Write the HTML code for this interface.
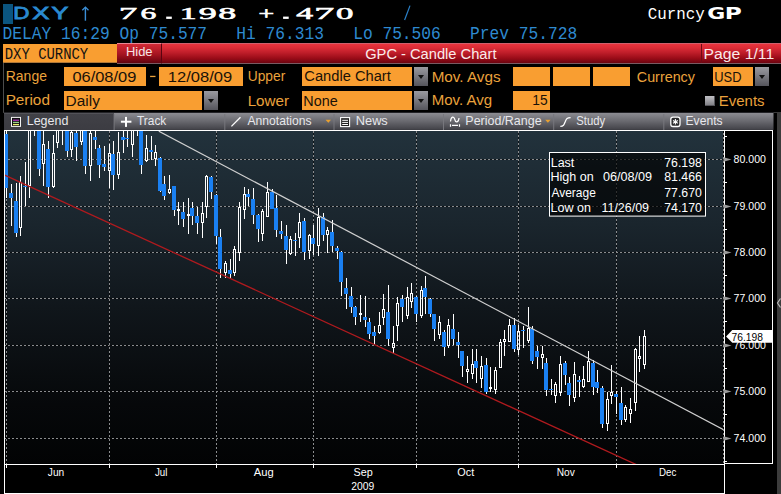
<!DOCTYPE html>
<html><head><meta charset="utf-8"><title>GPC - Candle Chart</title>
<style>
*{margin:0;padding:0;box-sizing:border-box}
html,body{width:781px;height:494px;overflow:hidden;background:#000}
body{position:relative;font-family:"Liberation Sans",Arial,sans-serif}
.a{position:absolute;white-space:pre}
.mono{font-family:"Liberation Mono",monospace}
.cur{left:3px;top:4px;width:10px;height:19.7px;background:#0b5580}
.ob{background:#f99e31;color:#111}
.hdr{left:117px;top:43px;width:664px;height:21px;background:linear-gradient(#ea343e,#dc2c36 20%,#c01e2a 45%,#9a0c18 75%,#6c0410);border-top:1px solid #d0606c;border-bottom:1px solid #7a5a62}
.hide{left:117px;top:43px;width:45px;height:21px;background:linear-gradient(#d42a36,#c0202c 25%,#a41420 55%,#820a16 80%,#600410);border-top:1px solid #e88894;border-right:1px solid #5a0410;border-bottom:1px solid #7a5a62}
.pg{left:701px;top:44px;width:80px;height:19px;border-left:1px solid #700a16}
.dd{width:14px;height:19px;background:linear-gradient(#9a9aa0,#55555c);}
.dd:after{content:"";position:absolute;left:4px;top:8px;border-left:3px solid transparent;border-right:3px solid transparent;border-top:4px solid #111}
.yl{font-family:"Liberation Sans",Arial,sans-serif;font-size:13px;fill:#fff}
.g{stroke:#8a8c8e;stroke-width:1;stroke-dasharray:2 2}
.gb{stroke:#000;stroke-opacity:.55;stroke-width:1}
</style></head><body>
<div class="a cur"></div>

<div class="a ob" style="left:3px;top:44px;width:114px;height:19px;border-bottom:1px solid #b07838"></div>
<div class="a hdr"></div>
<div class="a hide"></div>
<div class="a pg"></div>

<svg class="a" style="left:0;top:0" width="781" height="64" viewBox="0 0 781 64">
<text transform="translate(13.34 18.9) scale(1.364 1)" style="font:normal 16.4px 'Liberation Sans', sans-serif;fill:#2a8ad0" stroke="#2a8ad0" stroke-width="0.8">D</text>
<text transform="translate(32.20 18.9) scale(1.564 1)" style="font:normal 16.4px 'Liberation Sans', sans-serif;fill:#2a8ad0" stroke="#2a8ad0" stroke-width="0.8">X</text>
<text transform="translate(51.40 18.9) scale(1.536 1)" style="font:normal 16.4px 'Liberation Sans', sans-serif;fill:#2a8ad0" stroke="#2a8ad0" stroke-width="0.8">Y</text>
<path d="M82.3 10.2 L85.4 7.1 L88.5 10.2" stroke="#3a8ed6" stroke-width="1.3" fill="none"/><rect x="84.7" y="7.6" width="1.4" height="13.1" fill="#3a8ed6"/>
<text transform="translate(118.99 18.8) scale(2.113 1)" style="font:normal 17.2px 'Liberation Serif', serif;fill:#fff" stroke="#fff" stroke-width="0.6">7</text>
<text transform="translate(140.40 18.8) scale(1.833 1)" style="font:normal 17.2px 'Liberation Serif', serif;fill:#fff" stroke="#fff" stroke-width="0.6">6</text>
<text transform="translate(179.74 18.8) scale(1.957 1)" style="font:normal 17.2px 'Liberation Serif', serif;fill:#fff" stroke="#fff" stroke-width="0.6">1</text>
<text transform="translate(198.70 18.8) scale(2.088 1)" style="font:normal 17.2px 'Liberation Serif', serif;fill:#fff" stroke="#fff" stroke-width="0.6">9</text>
<text transform="translate(218.30 18.8) scale(2.087 1)" style="font:normal 17.2px 'Liberation Serif', serif;fill:#fff" stroke="#fff" stroke-width="0.6">8</text>
<text transform="translate(258.50 18.8) scale(1.611 1)" style="font:normal 17.2px 'Liberation Serif', serif;fill:#fff" stroke="#fff" stroke-width="0.6">+</text>
<text transform="translate(296.20 18.8) scale(1.956 1)" style="font:normal 17.2px 'Liberation Serif', serif;fill:#fff" stroke="#fff" stroke-width="0.6">4</text>
<text transform="translate(314.19 18.8) scale(2.312 1)" style="font:normal 17.2px 'Liberation Serif', serif;fill:#fff" stroke="#fff" stroke-width="0.6">7</text>
<text transform="translate(336.10 18.8) scale(2.025 1)" style="font:normal 17.2px 'Liberation Serif', serif;fill:#fff" stroke="#fff" stroke-width="0.6">0</text>
<rect x="166.2" y="16.6" width="5.6" height="2.3" fill="#fff"/><rect x="283.1" y="16.6" width="5.6" height="2.3" fill="#fff"/>
<line x1="404.6" y1="20" x2="410" y2="5.6" stroke="#2a80c8" stroke-width="1.2"/>
<text transform="translate(647.70 18.6) scale(0.960 1.0)" style="font:normal 16.5px 'Liberation Mono', monospace;fill:#fff;white-space:pre" xml:space="preserve">Curncy</text>
<text transform="translate(707.30 19.2) scale(1.433 1)" style="font:bold 15.3px 'DejaVu Sans', sans-serif;fill:#fff" >G</text>
<text transform="translate(724.68 19.2) scale(1.520 1)" style="font:bold 15.3px 'DejaVu Sans', sans-serif;fill:#fff" >P</text>
<text transform="translate(2.58 38.8) scale(0.918 1.0)" style="font:normal 17.7px 'Liberation Mono', monospace;fill:#2e8ad0;white-space:pre" xml:space="preserve">DELAY 16:29 Op 75.577   Hi 76.313   Lo 75.506   Prev 75.728</text>
<text transform="translate(4.76 59) scale(0.843 1.0)" style="font:normal 16.5px 'Liberation Mono', monospace;fill:#111;white-space:pre" xml:space="preserve">DXY CURNCY</text>
<text transform="translate(125.93 55.9) scale(0.975 1.0)" style="font:normal 13.3px 'Liberation Sans', sans-serif;fill:#f6e6e6;white-space:pre" xml:space="preserve">Hide</text>
<text transform="translate(365.20 58.9) scale(0.979 1.0)" style="font:normal 15px 'Liberation Sans', sans-serif;fill:#fbeaea;white-space:pre" xml:space="preserve">GPC - Candle Chart</text>
<text transform="translate(703.60 58.5) scale(1.102 1.0)" style="font:normal 14.3px 'Liberation Sans', sans-serif;fill:#fbeaea;white-space:pre" xml:space="preserve">Page 1/11</text>
</svg>
<div class="a" style="left:3px;top:63px;width:778px;height:50px;border-left:1px solid #4c4c4c;border-bottom:1px solid #3a3a3a"></div>
<div class="a ob" style="left:64px;top:67px;width:82px;height:18.7px"></div>
<div class="a ob" style="left:159px;top:67px;width:84px;height:18.7px"></div>
<div class="a ob" style="left:302px;top:67px;width:110px;height:18.7px"></div>
<div class="a dd" style="left:414px;top:67px"></div>
<div class="a ob" style="left:513px;top:67px;width:37px;height:18.7px"></div>
<div class="a ob" style="left:553px;top:67px;width:37px;height:18.7px"></div>
<div class="a ob" style="left:593px;top:67px;width:37px;height:18.7px"></div>
<div class="a ob" style="left:713px;top:67px;width:40px;height:18.7px"></div>
<div class="a dd" style="left:755px;top:67px"></div>
<div class="a ob" style="left:64px;top:91px;width:138px;height:18.7px"></div>
<div class="a dd" style="left:204px;top:91px"></div>
<div class="a ob" style="left:302px;top:91px;width:110px;height:18.7px"></div>
<div class="a dd" style="left:414px;top:91px"></div>
<div class="a ob" style="left:513px;top:91px;width:37px;height:18.7px"></div>
<div class="a" style="left:704.5px;top:96px;width:10px;height:10px;background:linear-gradient(#c0c0c4,#7a7a80);box-shadow:inset -1px -1px 0 #55555a"></div>
<svg class="a" style="left:0;top:0" width="781" height="112" viewBox="0 0 781 112">
<text transform="translate(5.72 81.3) scale(0.979 1.0)" style="font:normal 14.3px 'Liberation Sans', sans-serif;fill:#eaa23c;white-space:pre" xml:space="preserve">Range</text>
<text transform="translate(72.40 81.9) scale(1.096 1.0)" style="font:normal 15px 'Liberation Sans', sans-serif;fill:#1a1208;white-space:pre" xml:space="preserve">06/08/09</text>
<rect x="150.1" y="75.8" width="5.4" height="1.3" fill="#eaa23c"/>
<text transform="translate(167.80 81.9) scale(1.103 1.0)" style="font:normal 15px 'Liberation Sans', sans-serif;fill:#1a1208;white-space:pre" xml:space="preserve">12/08/09</text>
<text transform="translate(247.74 81.3) scale(0.964 1.0)" style="font:normal 14.3px 'Liberation Sans', sans-serif;fill:#eaa23c;white-space:pre" xml:space="preserve">Upper</text>
<text transform="translate(304.30 81.2) scale(1.027 1.0)" style="font:normal 14.3px 'Liberation Sans', sans-serif;fill:#1a1208;white-space:pre" xml:space="preserve">Candle Chart</text>
<text transform="translate(431.63 81.5) scale(1.067 1.0)" style="font:normal 14.3px 'Liberation Sans', sans-serif;fill:#eaa23c;white-space:pre" xml:space="preserve">Mov. Avgs</text>
<text transform="translate(636.80 81.5) scale(1.003 1.0)" style="font:normal 14.3px 'Liberation Sans', sans-serif;fill:#eaa23c;white-space:pre" xml:space="preserve">Currency</text>
<text transform="translate(714.20 81.8) scale(0.904 1.0)" style="font:normal 14.3px 'Liberation Sans', sans-serif;fill:#1a1208;white-space:pre" xml:space="preserve">USD</text>
<text transform="translate(5.63 105.2) scale(1.072 1.0)" style="font:normal 14.3px 'Liberation Sans', sans-serif;fill:#eaa23c;white-space:pre" xml:space="preserve">Period</text>
<text transform="translate(65.62 105.5) scale(1.078 1.0)" style="font:normal 14.3px 'Liberation Sans', sans-serif;fill:#1a1208;white-space:pre" xml:space="preserve">Daily</text>
<text transform="translate(247.64 105.6) scale(1.063 1.0)" style="font:normal 14.3px 'Liberation Sans', sans-serif;fill:#eaa23c;white-space:pre" xml:space="preserve">Lower</text>
<text transform="translate(303.29 105.5) scale(1.005 1.0)" style="font:normal 14.3px 'Liberation Sans', sans-serif;fill:#1a1208;white-space:pre" xml:space="preserve">None</text>
<text transform="translate(431.65 104.9) scale(1.052 1.0)" style="font:normal 14.3px 'Liberation Sans', sans-serif;fill:#eaa23c;white-space:pre" xml:space="preserve">Mov. Avg</text>
<text transform="translate(532.34 105.2) scale(0.963 1.0)" style="font:normal 14.3px 'Liberation Sans', sans-serif;fill:#1a1208;white-space:pre" xml:space="preserve">15</text>
<text transform="translate(718.85 105.6) scale(1.046 1.0)" style="font:normal 14.3px 'Liberation Sans', sans-serif;fill:#eaa23c;white-space:pre" xml:space="preserve">Events</text>
</svg>
<svg class="a" style="left:0;top:112px" width="781" height="19" viewBox="0 112 781 19">
<defs>
<linearGradient id="tbg" x1="0" y1="112" x2="0" y2="130" gradientUnits="userSpaceOnUse">
<stop offset="0" stop-color="#222226"/><stop offset="0.055" stop-color="#222226"/>
<stop offset="0.056" stop-color="#8c8c92"/><stop offset="0.5" stop-color="#6a6a70"/><stop offset="0.94" stop-color="#45454b"/><stop offset="1" stop-color="#3a3a3f"/>
</linearGradient>
<linearGradient id="tbd" x1="0" y1="112" x2="0" y2="130" gradientUnits="userSpaceOnUse">
<stop offset="0" stop-color="#222226"/><stop offset="0.055" stop-color="#222226"/>
<stop offset="0.056" stop-color="#525258"/><stop offset="0.11" stop-color="#525258"/><stop offset="0.111" stop-color="#414147"/><stop offset="1" stop-color="#3c3c42"/>
</linearGradient>
</defs>
<rect x="4" y="112" width="769.5" height="18" fill="url(#tbg)"/>
<rect x="4" y="112" width="110" height="18" fill="url(#tbd)"/>
<g fill="#77777d">
<rect x="113.6" y="114" width="1" height="16"/><rect x="224.3" y="114" width="1" height="16"/>
<rect x="333.5" y="114" width="1" height="16"/><rect x="443" y="114" width="1" height="16"/>
<rect x="553.2" y="114" width="1" height="16"/><rect x="663.3" y="114" width="1" height="16"/>
</g>
<rect x="11.5" y="117.4" width="9" height="9" fill="#111" stroke="#f4f4f4" stroke-width="1"/>
<rect x="13" y="119.6" width="6" height="1.3" fill="#b030b8"/>
<rect x="13" y="121.8" width="6" height="1.2" fill="#9ad090"/>
<rect x="13" y="123.9" width="6" height="1.3" fill="#e8f070"/>
<rect x="120.9" y="120.7" width="10.5" height="2" fill="#fff"/>
<rect x="125" y="116.9" width="2" height="10" fill="#fff"/>
<line x1="231.4" y1="126.4" x2="240.5" y2="117.3" stroke="#fff" stroke-width="1.3"/>
<path d="M325.6 119.8 L331 119.8 L328.3 122.8 Z" fill="#e8a030"/>
<rect x="340.6" y="117.6" width="9" height="9" fill="#222" stroke="#fff" stroke-width="1.1"/>
<g fill="#fff"><rect x="342.2" y="119.8" width="5.8" height="1"/><rect x="342.2" y="121.9" width="5.8" height="1"/><rect x="342.2" y="124" width="5.8" height="1"/></g>
<path d="M450.5 121.5 C451 116, 454 116, 454.8 119.5 C455.6 123, 458.5 123, 459 118" stroke="#fff" stroke-width="1.2" fill="none"/>
<path d="M450.5 124.2 V126.8 M459.5 124.2 V126.8 M452 125.4 H458" stroke="#fff" stroke-width="1.2" fill="none"/>
<path d="M545.2 119.8 L550.6 119.8 L547.9 122.8 Z" fill="#e8a030"/>
<path d="M560.3 126.3 C563.5 126.3, 564 125, 565.2 121.8 C566.3 118.4, 567.2 117.6, 570.6 117.6" stroke="#fff" stroke-width="1.3" fill="none"/>
<rect x="670.8" y="117.1" width="9.2" height="9.4" rx="2.2" fill="#2a2a2c" stroke="#fff" stroke-width="1.3"/>
<path d="M675.4 119 V124.6 M673 120.4 L677.8 123.2 M673 123.2 L677.8 120.4" stroke="#fff" stroke-width="1.1" fill="none"/>
<text transform="translate(26.71 124.7) scale(0.992 1.0)" style="font:normal 12.6px 'Liberation Sans', sans-serif;fill:#e8e8ec;white-space:pre" xml:space="preserve">Legend</text>
<text transform="translate(137.00 124.7) scale(0.946 1.0)" style="font:normal 12.6px 'Liberation Sans', sans-serif;fill:#e8e8ec;white-space:pre" xml:space="preserve">Track</text>
<text transform="translate(247.50 124.7) scale(0.963 1.0)" style="font:normal 12.6px 'Liberation Sans', sans-serif;fill:#e8e8ec;white-space:pre" xml:space="preserve">Annotations</text>
<text transform="translate(355.78 124.7) scale(1.017 1.0)" style="font:normal 12.6px 'Liberation Sans', sans-serif;fill:#e8e8ec;white-space:pre" xml:space="preserve">News</text>
<text transform="translate(465.31 124.7) scale(0.992 1.0)" style="font:normal 12.6px 'Liberation Sans', sans-serif;fill:#e8e8ec;white-space:pre" xml:space="preserve">Period/Range</text>
<text transform="translate(576.30 124.7) scale(0.896 1.0)" style="font:normal 12.6px 'Liberation Sans', sans-serif;fill:#e8e8ec;white-space:pre" xml:space="preserve">Study</text>
<text transform="translate(685.54 124.7) scale(0.962 1.0)" style="font:normal 12.6px 'Liberation Sans', sans-serif;fill:#e8e8ec;white-space:pre" xml:space="preserve">Events</text>
</svg>
<div class="a" style="left:777px;top:112px;width:4px;height:382px;background:#3c3c3c"></div>

<svg class="a" style="left:0;top:0" width="781" height="494" viewBox="0 0 781 494">
<defs>
<linearGradient id="bgv" x1="0" y1="131" x2="0" y2="464" gradientUnits="userSpaceOnUse">
<stop offset="0" stop-color="#22323c"/>
<stop offset="0.28" stop-color="#1a252d"/>
<stop offset="0.53" stop-color="#10161b"/>
<stop offset="0.82" stop-color="#06080a"/>
<stop offset="1" stop-color="#020304"/>
</linearGradient>
<clipPath id="pc"><rect x="5" y="131" width="719" height="333"/></clipPath>
</defs>
<rect x="5" y="131" width="719" height="333" fill="url(#bgv)"/>
<g>
<line x1="4" y1="438.5" x2="724" y2="438.5" class="gb"/>
<line x1="4" y1="438.5" x2="724" y2="438.5" class="g"/>
<line x1="4" y1="391.5" x2="724" y2="391.5" class="gb"/>
<line x1="4" y1="391.5" x2="724" y2="391.5" class="g"/>
<line x1="4" y1="345.5" x2="724" y2="345.5" class="gb"/>
<line x1="4" y1="345.5" x2="724" y2="345.5" class="g"/>
<line x1="4" y1="298.5" x2="724" y2="298.5" class="gb"/>
<line x1="4" y1="298.5" x2="724" y2="298.5" class="g"/>
<line x1="4" y1="252.5" x2="724" y2="252.5" class="gb"/>
<line x1="4" y1="252.5" x2="724" y2="252.5" class="g"/>
<line x1="4" y1="206.5" x2="724" y2="206.5" class="gb"/>
<line x1="4" y1="206.5" x2="724" y2="206.5" class="g"/>
<line x1="4" y1="159.5" x2="724" y2="159.5" class="gb"/>
<line x1="4" y1="159.5" x2="724" y2="159.5" class="g"/>
<line x1="6.5" y1="131" x2="6.5" y2="464" class="gb"/>
<line x1="6.5" y1="131" x2="6.5" y2="464" class="g"/>
<line x1="109.5" y1="131" x2="109.5" y2="464" class="gb"/>
<line x1="109.5" y1="131" x2="109.5" y2="464" class="g"/>
<line x1="216.5" y1="131" x2="216.5" y2="464" class="gb"/>
<line x1="216.5" y1="131" x2="216.5" y2="464" class="g"/>
<line x1="313.5" y1="131" x2="313.5" y2="464" class="gb"/>
<line x1="313.5" y1="131" x2="313.5" y2="464" class="g"/>
<line x1="416.5" y1="131" x2="416.5" y2="464" class="gb"/>
<line x1="416.5" y1="131" x2="416.5" y2="464" class="g"/>
<line x1="518.5" y1="131" x2="518.5" y2="464" class="gb"/>
<line x1="518.5" y1="131" x2="518.5" y2="464" class="g"/>
<line x1="616.5" y1="131" x2="616.5" y2="464" class="gb"/>
<line x1="616.5" y1="131" x2="616.5" y2="464" class="g"/>
</g>
<g clip-path="url(#pc)">
<rect x="6" y="128" width="1" height="70" fill="#fff"/>
<rect x="4" y="134" width="4" height="54" fill="#1a80f2"/>
<rect x="11" y="184" width="1" height="42" fill="#fff"/>
<rect x="9" y="193" width="4" height="5" fill="#1a80f2"/>
<rect x="16" y="183" width="1" height="54" fill="#fff"/>
<rect x="14" y="201" width="4" height="32" fill="#1a80f2"/>
<rect x="20" y="176" width="1" height="6" fill="#fff"/>
<rect x="20" y="228" width="1" height="8" fill="#fff"/>
<path d="M19 182h3v46h-3z M20 183v44h1v-44z" fill="#fff" fill-rule="evenodd"/>
<rect x="25" y="162" width="1" height="44" fill="#fff"/>
<rect x="23" y="186" width="4" height="1" fill="#1a80f2"/>
<rect x="29" y="120" width="1" height="4" fill="#fff"/>
<rect x="29" y="186" width="1" height="12" fill="#fff"/>
<path d="M28 124h3v62h-3z M29 125v60h1v-60z" fill="#fff" fill-rule="evenodd"/>
<rect x="34" y="115" width="1" height="3" fill="#fff"/>
<rect x="34" y="127" width="1" height="9" fill="#fff"/>
<path d="M33 118h3v9h-3z M34 119v7h1v-7z" fill="#fff" fill-rule="evenodd"/>
<rect x="39" y="120" width="1" height="56" fill="#fff"/>
<rect x="37" y="124" width="4" height="45" fill="#1a80f2"/>
<rect x="43" y="125" width="1" height="19" fill="#fff"/>
<rect x="43" y="164" width="1" height="22" fill="#fff"/>
<path d="M42 144h3v20h-3z M43 145v18h1v-18z" fill="#fff" fill-rule="evenodd"/>
<rect x="48" y="141" width="1" height="57" fill="#fff"/>
<rect x="46" y="149" width="4" height="38" fill="#1a80f2"/>
<rect x="53" y="135" width="1" height="18" fill="#fff"/>
<rect x="53" y="187" width="1" height="1" fill="#fff"/>
<path d="M52 153h3v34h-3z M53 154v32h1v-32z" fill="#fff" fill-rule="evenodd"/>
<rect x="57" y="120" width="1" height="4" fill="#fff"/>
<rect x="57" y="143" width="1" height="5" fill="#fff"/>
<path d="M56 124h3v19h-3z M57 125v17h1v-17z" fill="#fff" fill-rule="evenodd"/>
<rect x="62" y="115" width="1" height="3" fill="#fff"/>
<rect x="62" y="127" width="1" height="18" fill="#fff"/>
<path d="M61 118h3v9h-3z M62 119v7h1v-7z" fill="#fff" fill-rule="evenodd"/>
<rect x="67" y="120" width="1" height="37" fill="#fff"/>
<rect x="65" y="124" width="4" height="27" fill="#1a80f2"/>
<rect x="71" y="125" width="1" height="7" fill="#fff"/>
<rect x="71" y="150" width="1" height="7" fill="#fff"/>
<path d="M70 132h3v18h-3z M71 133v16h1v-16z" fill="#fff" fill-rule="evenodd"/>
<rect x="76" y="125" width="1" height="36" fill="#fff"/>
<rect x="74" y="133" width="4" height="14" fill="#1a80f2"/>
<rect x="81" y="125" width="1" height="3" fill="#fff"/>
<rect x="81" y="142" width="1" height="3" fill="#fff"/>
<path d="M80 128h3v14h-3z M81 129v12h1v-12z" fill="#fff" fill-rule="evenodd"/>
<rect x="85" y="125" width="1" height="49" fill="#fff"/>
<rect x="83" y="128" width="4" height="38" fill="#1a80f2"/>
<rect x="90" y="125" width="1" height="8" fill="#fff"/>
<rect x="90" y="166" width="1" height="15" fill="#fff"/>
<path d="M89 133h3v33h-3z M90 134v31h1v-31z" fill="#fff" fill-rule="evenodd"/>
<rect x="95" y="125" width="1" height="24" fill="#fff"/>
<rect x="93" y="137" width="4" height="3" fill="#1a80f2"/>
<rect x="99" y="145" width="1" height="33" fill="#fff"/>
<rect x="97" y="148" width="4" height="17" fill="#1a80f2"/>
<rect x="104" y="146" width="1" height="25" fill="#fff"/>
<rect x="102" y="164" width="4" height="3" fill="#1a80f2"/>
<rect x="109" y="144" width="1" height="9" fill="#fff"/>
<rect x="109" y="171" width="1" height="17" fill="#fff"/>
<path d="M108 153h3v18h-3z M109 154v16h1v-16z" fill="#fff" fill-rule="evenodd"/>
<rect x="113" y="141" width="1" height="49" fill="#fff"/>
<rect x="111" y="154" width="4" height="21" fill="#1a80f2"/>
<rect x="118" y="132" width="1" height="20" fill="#fff"/>
<rect x="118" y="175" width="1" height="4" fill="#fff"/>
<path d="M117 152h3v23h-3z M118 153v21h1v-21z" fill="#fff" fill-rule="evenodd"/>
<rect x="123" y="125" width="1" height="28" fill="#fff"/>
<rect x="121" y="137" width="4" height="3" fill="#1a80f2"/>
<rect x="127" y="125" width="1" height="22" fill="#fff"/>
<rect x="125" y="138" width="4" height="1" fill="#1a80f2"/>
<rect x="132" y="125" width="1" height="3" fill="#fff"/>
<rect x="132" y="145" width="1" height="12" fill="#fff"/>
<path d="M131 128h3v17h-3z M132 129v15h1v-15z" fill="#fff" fill-rule="evenodd"/>
<rect x="137" y="115" width="1" height="3" fill="#fff"/>
<rect x="137" y="127" width="1" height="9" fill="#fff"/>
<path d="M136 118h3v9h-3z M137 119v7h1v-7z" fill="#fff" fill-rule="evenodd"/>
<rect x="141" y="125" width="1" height="49" fill="#fff"/>
<rect x="139" y="128" width="4" height="37" fill="#1a80f2"/>
<rect x="146" y="135" width="1" height="13" fill="#fff"/>
<rect x="146" y="161" width="1" height="1" fill="#fff"/>
<path d="M145 148h3v13h-3z M146 149v11h1v-11z" fill="#fff" fill-rule="evenodd"/>
<rect x="151" y="136" width="1" height="24" fill="#fff"/>
<rect x="149" y="150" width="4" height="2" fill="#1a80f2"/>
<rect x="155" y="145" width="1" height="7" fill="#fff"/>
<rect x="155" y="159" width="1" height="7" fill="#fff"/>
<path d="M154 152h3v7h-3z M155 153v5h1v-5z" fill="#fff" fill-rule="evenodd"/>
<rect x="160" y="157" width="1" height="35" fill="#fff"/>
<rect x="158" y="158" width="4" height="33" fill="#1a80f2"/>
<rect x="164" y="176" width="1" height="24" fill="#fff"/>
<rect x="162" y="184" width="4" height="12" fill="#1a80f2"/>
<rect x="169" y="175" width="1" height="14" fill="#fff"/>
<rect x="169" y="193" width="1" height="1" fill="#fff"/>
<path d="M168 189h3v4h-3z M169 190v2h1v-2z" fill="#fff" fill-rule="evenodd"/>
<rect x="174" y="186" width="1" height="30" fill="#fff"/>
<rect x="172" y="186" width="4" height="24" fill="#1a80f2"/>
<rect x="178" y="202" width="1" height="23" fill="#fff"/>
<rect x="177" y="209" width="3" height="2" fill="#fff"/>
<rect x="183" y="202" width="1" height="25" fill="#fff"/>
<rect x="181" y="212" width="4" height="7" fill="#1a80f2"/>
<rect x="188" y="198" width="1" height="36" fill="#fff"/>
<rect x="187" y="214" width="3" height="2" fill="#fff"/>
<rect x="192" y="202" width="1" height="23" fill="#fff"/>
<rect x="190" y="208" width="4" height="8" fill="#1a80f2"/>
<rect x="197" y="207" width="1" height="27" fill="#fff"/>
<rect x="195" y="216" width="4" height="7" fill="#1a80f2"/>
<rect x="202" y="202" width="1" height="11" fill="#fff"/>
<rect x="202" y="223" width="1" height="15" fill="#fff"/>
<path d="M201 213h3v10h-3z M202 214v8h1v-8z" fill="#fff" fill-rule="evenodd"/>
<rect x="206" y="175" width="1" height="1" fill="#fff"/>
<rect x="206" y="207" width="1" height="11" fill="#fff"/>
<path d="M205 176h3v31h-3z M206 177v29h1v-29z" fill="#fff" fill-rule="evenodd"/>
<rect x="211" y="176" width="1" height="23" fill="#fff"/>
<rect x="209" y="177" width="4" height="15" fill="#1a80f2"/>
<rect x="216" y="194" width="1" height="50" fill="#fff"/>
<rect x="214" y="195" width="4" height="41" fill="#1a80f2"/>
<rect x="220" y="229" width="1" height="49" fill="#fff"/>
<rect x="218" y="237" width="4" height="32" fill="#1a80f2"/>
<rect x="225" y="261" width="1" height="2" fill="#fff"/>
<rect x="225" y="273" width="1" height="5" fill="#fff"/>
<path d="M224 263h3v10h-3z M225 264v8h1v-8z" fill="#fff" fill-rule="evenodd"/>
<rect x="230" y="259" width="1" height="20" fill="#fff"/>
<rect x="228" y="270" width="4" height="4" fill="#1a80f2"/>
<rect x="234" y="246" width="1" height="3" fill="#fff"/>
<rect x="234" y="273" width="1" height="3" fill="#fff"/>
<path d="M233 249h3v24h-3z M234 250v22h1v-22z" fill="#fff" fill-rule="evenodd"/>
<rect x="239" y="202" width="1" height="5" fill="#fff"/>
<rect x="239" y="253" width="1" height="8" fill="#fff"/>
<path d="M238 207h3v46h-3z M239 208v44h1v-44z" fill="#fff" fill-rule="evenodd"/>
<rect x="244" y="187" width="1" height="7" fill="#fff"/>
<rect x="244" y="210" width="1" height="9" fill="#fff"/>
<path d="M243 194h3v16h-3z M244 195v14h1v-14z" fill="#fff" fill-rule="evenodd"/>
<rect x="248" y="189" width="1" height="17" fill="#fff"/>
<rect x="246" y="194" width="4" height="3" fill="#1a80f2"/>
<rect x="253" y="188" width="1" height="36" fill="#fff"/>
<rect x="251" y="199" width="4" height="16" fill="#1a80f2"/>
<rect x="258" y="214" width="1" height="28" fill="#fff"/>
<rect x="256" y="215" width="4" height="14" fill="#1a80f2"/>
<rect x="262" y="209" width="1" height="2" fill="#fff"/>
<rect x="262" y="234" width="1" height="7" fill="#fff"/>
<path d="M261 211h3v23h-3z M262 212v21h1v-21z" fill="#fff" fill-rule="evenodd"/>
<rect x="267" y="182" width="1" height="10" fill="#fff"/>
<path d="M266 192h3v25h-3z M267 193v23h1v-23z" fill="#fff" fill-rule="evenodd"/>
<rect x="272" y="189" width="1" height="20" fill="#fff"/>
<rect x="270" y="192" width="4" height="17" fill="#1a80f2"/>
<rect x="276" y="195" width="1" height="42" fill="#fff"/>
<rect x="274" y="208" width="4" height="22" fill="#1a80f2"/>
<rect x="281" y="221" width="1" height="18" fill="#fff"/>
<rect x="279" y="231" width="4" height="3" fill="#1a80f2"/>
<rect x="286" y="225" width="1" height="39" fill="#fff"/>
<rect x="284" y="236" width="4" height="14" fill="#1a80f2"/>
<rect x="290" y="236" width="1" height="3" fill="#fff"/>
<rect x="290" y="254" width="1" height="1" fill="#fff"/>
<path d="M289 239h3v15h-3z M290 240v13h1v-13z" fill="#fff" fill-rule="evenodd"/>
<rect x="295" y="233" width="1" height="23" fill="#fff"/>
<rect x="293" y="240" width="4" height="1" fill="#1a80f2"/>
<rect x="299" y="213" width="1" height="9" fill="#fff"/>
<rect x="299" y="238" width="1" height="10" fill="#fff"/>
<path d="M298 222h3v16h-3z M299 223v14h1v-14z" fill="#fff" fill-rule="evenodd"/>
<rect x="304" y="218" width="1" height="42" fill="#fff"/>
<rect x="302" y="221" width="4" height="31" fill="#1a80f2"/>
<rect x="309" y="234" width="1" height="1" fill="#fff"/>
<rect x="309" y="251" width="1" height="8" fill="#fff"/>
<path d="M308 235h3v16h-3z M309 236v14h1v-14z" fill="#fff" fill-rule="evenodd"/>
<rect x="313" y="225" width="1" height="30" fill="#fff"/>
<rect x="311" y="238" width="4" height="6" fill="#1a80f2"/>
<rect x="318" y="208" width="1" height="9" fill="#fff"/>
<rect x="318" y="246" width="1" height="10" fill="#fff"/>
<path d="M317 217h3v29h-3z M318 218v27h1v-27z" fill="#fff" fill-rule="evenodd"/>
<rect x="323" y="213" width="1" height="28" fill="#fff"/>
<rect x="321" y="217" width="4" height="18" fill="#1a80f2"/>
<rect x="327" y="227" width="1" height="3" fill="#fff"/>
<rect x="327" y="235" width="1" height="18" fill="#fff"/>
<path d="M326 230h3v5h-3z M327 231v3h1v-3z" fill="#fff" fill-rule="evenodd"/>
<rect x="332" y="220" width="1" height="32" fill="#fff"/>
<rect x="330" y="232" width="4" height="14" fill="#1a80f2"/>
<rect x="337" y="246" width="1" height="13" fill="#fff"/>
<rect x="335" y="248" width="4" height="3" fill="#1a80f2"/>
<rect x="341" y="251" width="1" height="45" fill="#fff"/>
<rect x="339" y="252" width="4" height="30" fill="#1a80f2"/>
<rect x="346" y="278" width="1" height="31" fill="#fff"/>
<rect x="344" y="288" width="4" height="6" fill="#1a80f2"/>
<rect x="351" y="287" width="1" height="26" fill="#fff"/>
<rect x="349" y="296" width="4" height="11" fill="#1a80f2"/>
<rect x="355" y="306" width="1" height="19" fill="#fff"/>
<rect x="353" y="307" width="4" height="10" fill="#1a80f2"/>
<rect x="360" y="295" width="1" height="27" fill="#fff"/>
<rect x="359" y="313" width="3" height="2" fill="#fff"/>
<rect x="365" y="296" width="1" height="31" fill="#fff"/>
<rect x="363" y="317" width="4" height="3" fill="#1a80f2"/>
<rect x="369" y="318" width="1" height="21" fill="#fff"/>
<rect x="367" y="322" width="4" height="12" fill="#1a80f2"/>
<rect x="374" y="326" width="1" height="19" fill="#fff"/>
<rect x="372" y="332" width="4" height="4" fill="#1a80f2"/>
<rect x="379" y="312" width="1" height="13" fill="#fff"/>
<rect x="379" y="333" width="1" height="1" fill="#fff"/>
<path d="M378 325h3v8h-3z M379 326v6h1v-6z" fill="#fff" fill-rule="evenodd"/>
<rect x="383" y="294" width="1" height="15" fill="#fff"/>
<rect x="383" y="318" width="1" height="7" fill="#fff"/>
<path d="M382 309h3v9h-3z M383 310v7h1v-7z" fill="#fff" fill-rule="evenodd"/>
<rect x="388" y="285" width="1" height="61" fill="#fff"/>
<rect x="386" y="312" width="4" height="27" fill="#1a80f2"/>
<rect x="393" y="326" width="1" height="17" fill="#fff"/>
<rect x="393" y="348" width="1" height="5" fill="#fff"/>
<path d="M392 343h3v5h-3z M393 344v3h1v-3z" fill="#fff" fill-rule="evenodd"/>
<rect x="397" y="297" width="1" height="6" fill="#fff"/>
<rect x="397" y="326" width="1" height="15" fill="#fff"/>
<path d="M396 303h3v23h-3z M397 304v21h1v-21z" fill="#fff" fill-rule="evenodd"/>
<rect x="402" y="295" width="1" height="27" fill="#fff"/>
<rect x="400" y="299" width="4" height="8" fill="#1a80f2"/>
<rect x="407" y="287" width="1" height="10" fill="#fff"/>
<rect x="407" y="316" width="1" height="3" fill="#fff"/>
<path d="M406 297h3v19h-3z M407 298v17h1v-17z" fill="#fff" fill-rule="evenodd"/>
<rect x="411" y="283" width="1" height="10" fill="#fff"/>
<rect x="411" y="302" width="1" height="6" fill="#fff"/>
<path d="M410 293h3v9h-3z M411 294v7h1v-7z" fill="#fff" fill-rule="evenodd"/>
<rect x="416" y="296" width="1" height="26" fill="#fff"/>
<rect x="414" y="297" width="4" height="17" fill="#1a80f2"/>
<rect x="421" y="286" width="1" height="4" fill="#fff"/>
<rect x="421" y="316" width="1" height="2" fill="#fff"/>
<path d="M420 290h3v26h-3z M421 291v24h1v-24z" fill="#fff" fill-rule="evenodd"/>
<rect x="425" y="276" width="1" height="38" fill="#fff"/>
<rect x="423" y="288" width="4" height="9" fill="#1a80f2"/>
<rect x="430" y="298" width="1" height="19" fill="#fff"/>
<rect x="428" y="299" width="4" height="15" fill="#1a80f2"/>
<rect x="434" y="314" width="1" height="27" fill="#fff"/>
<rect x="432" y="314" width="4" height="15" fill="#1a80f2"/>
<rect x="439" y="316" width="1" height="6" fill="#fff"/>
<rect x="439" y="335" width="1" height="4" fill="#fff"/>
<path d="M438 322h3v13h-3z M439 323v11h1v-11z" fill="#fff" fill-rule="evenodd"/>
<rect x="444" y="330" width="1" height="26" fill="#fff"/>
<rect x="442" y="332" width="4" height="15" fill="#1a80f2"/>
<rect x="448" y="319" width="1" height="6" fill="#fff"/>
<rect x="448" y="346" width="1" height="2" fill="#fff"/>
<path d="M447 325h3v21h-3z M448 326v19h1v-19z" fill="#fff" fill-rule="evenodd"/>
<rect x="453" y="314" width="1" height="31" fill="#fff"/>
<rect x="451" y="329" width="4" height="10" fill="#1a80f2"/>
<rect x="458" y="332" width="1" height="26" fill="#fff"/>
<rect x="456" y="342" width="4" height="3" fill="#1a80f2"/>
<rect x="462" y="351" width="1" height="26" fill="#fff"/>
<rect x="460" y="351" width="4" height="15" fill="#1a80f2"/>
<rect x="467" y="356" width="1" height="13" fill="#fff"/>
<rect x="467" y="372" width="1" height="11" fill="#fff"/>
<path d="M466 369h3v3h-3z M467 370v1h1v-1z" fill="#fff" fill-rule="evenodd"/>
<rect x="472" y="349" width="1" height="15" fill="#fff"/>
<rect x="472" y="374" width="1" height="5" fill="#fff"/>
<path d="M471 364h3v10h-3z M472 365v8h1v-8z" fill="#fff" fill-rule="evenodd"/>
<rect x="476" y="349" width="1" height="34" fill="#fff"/>
<rect x="474" y="361" width="4" height="7" fill="#1a80f2"/>
<rect x="481" y="356" width="1" height="10" fill="#fff"/>
<rect x="481" y="379" width="1" height="9" fill="#fff"/>
<path d="M480 366h3v13h-3z M481 367v11h1v-11z" fill="#fff" fill-rule="evenodd"/>
<rect x="486" y="358" width="1" height="36" fill="#fff"/>
<rect x="484" y="365" width="4" height="27" fill="#1a80f2"/>
<rect x="490" y="367" width="1" height="25" fill="#fff"/>
<rect x="489" y="387" width="3" height="2" fill="#fff"/>
<rect x="495" y="367" width="1" height="3" fill="#fff"/>
<rect x="495" y="390" width="1" height="4" fill="#fff"/>
<path d="M494 370h3v20h-3z M495 371v18h1v-18z" fill="#fff" fill-rule="evenodd"/>
<rect x="500" y="339" width="1" height="3" fill="#fff"/>
<path d="M499 342h3v26h-3z M500 343v24h1v-24z" fill="#fff" fill-rule="evenodd"/>
<rect x="504" y="330" width="1" height="9" fill="#fff"/>
<rect x="504" y="342" width="1" height="14" fill="#fff"/>
<path d="M503 339h3v3h-3z M504 340v1h1v-1z" fill="#fff" fill-rule="evenodd"/>
<rect x="509" y="319" width="1" height="6" fill="#fff"/>
<path d="M508 325h3v17h-3z M509 326v15h1v-15z" fill="#fff" fill-rule="evenodd"/>
<rect x="514" y="318" width="1" height="34" fill="#fff"/>
<rect x="512" y="325" width="4" height="24" fill="#1a80f2"/>
<rect x="518" y="325" width="1" height="6" fill="#fff"/>
<rect x="518" y="350" width="1" height="5" fill="#fff"/>
<path d="M517 331h3v19h-3z M518 332v17h1v-17z" fill="#fff" fill-rule="evenodd"/>
<rect x="523" y="326" width="1" height="22" fill="#fff"/>
<rect x="521" y="330" width="4" height="1" fill="#1a80f2"/>
<rect x="528" y="307" width="1" height="21" fill="#fff"/>
<rect x="528" y="341" width="1" height="2" fill="#fff"/>
<path d="M527 328h3v13h-3z M528 329v11h1v-11z" fill="#fff" fill-rule="evenodd"/>
<rect x="532" y="326" width="1" height="38" fill="#fff"/>
<rect x="530" y="329" width="4" height="32" fill="#1a80f2"/>
<rect x="537" y="346" width="1" height="23" fill="#fff"/>
<rect x="535" y="351" width="4" height="6" fill="#1a80f2"/>
<rect x="542" y="346" width="1" height="8" fill="#fff"/>
<rect x="542" y="358" width="1" height="11" fill="#fff"/>
<path d="M541 354h3v4h-3z M542 355v2h1v-2z" fill="#fff" fill-rule="evenodd"/>
<rect x="546" y="358" width="1" height="38" fill="#fff"/>
<rect x="544" y="363" width="4" height="27" fill="#1a80f2"/>
<rect x="551" y="379" width="1" height="16" fill="#fff"/>
<rect x="549" y="389" width="4" height="1" fill="#1a80f2"/>
<rect x="555" y="382" width="1" height="2" fill="#fff"/>
<rect x="555" y="396" width="1" height="7" fill="#fff"/>
<path d="M554 384h3v12h-3z M555 385v10h1v-10z" fill="#fff" fill-rule="evenodd"/>
<rect x="560" y="356" width="1" height="8" fill="#fff"/>
<rect x="560" y="393" width="1" height="3" fill="#fff"/>
<path d="M559 364h3v29h-3z M560 365v27h1v-27z" fill="#fff" fill-rule="evenodd"/>
<rect x="565" y="361" width="1" height="24" fill="#fff"/>
<rect x="563" y="363" width="4" height="12" fill="#1a80f2"/>
<rect x="569" y="377" width="1" height="29" fill="#fff"/>
<rect x="567" y="383" width="4" height="12" fill="#1a80f2"/>
<rect x="574" y="362" width="1" height="12" fill="#fff"/>
<rect x="574" y="398" width="1" height="4" fill="#fff"/>
<path d="M573 374h3v24h-3z M574 375v22h1v-22z" fill="#fff" fill-rule="evenodd"/>
<rect x="579" y="376" width="1" height="21" fill="#fff"/>
<rect x="577" y="380" width="4" height="2" fill="#1a80f2"/>
<rect x="583" y="366" width="1" height="13" fill="#fff"/>
<rect x="583" y="387" width="1" height="1" fill="#fff"/>
<path d="M582 379h3v8h-3z M583 380v6h1v-6z" fill="#fff" fill-rule="evenodd"/>
<rect x="588" y="351" width="1" height="10" fill="#fff"/>
<path d="M587 361h3v21h-3z M588 362v19h1v-19z" fill="#fff" fill-rule="evenodd"/>
<rect x="593" y="360" width="1" height="35" fill="#fff"/>
<rect x="591" y="363" width="4" height="24" fill="#1a80f2"/>
<rect x="597" y="370" width="1" height="23" fill="#fff"/>
<rect x="595" y="382" width="4" height="6" fill="#1a80f2"/>
<rect x="602" y="386" width="1" height="42" fill="#fff"/>
<rect x="600" y="388" width="4" height="36" fill="#1a80f2"/>
<rect x="607" y="392" width="1" height="7" fill="#fff"/>
<rect x="607" y="424" width="1" height="7" fill="#fff"/>
<path d="M606 399h3v25h-3z M607 400v23h1v-23z" fill="#fff" fill-rule="evenodd"/>
<rect x="611" y="365" width="1" height="27" fill="#fff"/>
<rect x="611" y="396" width="1" height="8" fill="#fff"/>
<path d="M610 392h3v4h-3z M611 393v2h1v-2z" fill="#fff" fill-rule="evenodd"/>
<rect x="616" y="391" width="1" height="23" fill="#fff"/>
<rect x="614" y="394" width="4" height="3" fill="#1a80f2"/>
<rect x="621" y="387" width="1" height="38" fill="#fff"/>
<rect x="619" y="403" width="4" height="17" fill="#1a80f2"/>
<rect x="625" y="405" width="1" height="2" fill="#fff"/>
<rect x="625" y="420" width="1" height="2" fill="#fff"/>
<path d="M624 407h3v13h-3z M625 408v11h1v-11z" fill="#fff" fill-rule="evenodd"/>
<rect x="630" y="398" width="1" height="11" fill="#fff"/>
<rect x="630" y="414" width="1" height="9" fill="#fff"/>
<path d="M629 409h3v5h-3z M630 410v3h1v-3z" fill="#fff" fill-rule="evenodd"/>
<rect x="635" y="348" width="1" height="1" fill="#fff"/>
<rect x="635" y="403" width="1" height="8" fill="#fff"/>
<path d="M634 349h3v54h-3z M635 350v52h1v-52z" fill="#fff" fill-rule="evenodd"/>
<rect x="639" y="336" width="1" height="20" fill="#fff"/>
<rect x="639" y="359" width="1" height="13" fill="#fff"/>
<path d="M638 356h3v3h-3z M639 357v1h1v-1z" fill="#fff" fill-rule="evenodd"/>
<rect x="644" y="330" width="1" height="6" fill="#fff"/>
<rect x="644" y="365" width="1" height="4" fill="#fff"/>
<path d="M643 336h3v29h-3z M644 337v27h1v-27z" fill="#fff" fill-rule="evenodd"/>
<line x1="-200" y1="81.3" x2="724" y2="504.8" stroke="#b01a1e" stroke-width="1.3"/>
<line x1="158.8" y1="131.2" x2="724" y2="430" stroke="#d0d0d0" stroke-width="1.2"/>
</g>
<rect x="4.5" y="130.5" width="720" height="363" fill="none" stroke="#fff" stroke-width="1"/>
<line x1="4.5" y1="464.5" x2="724.5" y2="464.5" stroke="#fff"/>
<rect x="724.5" y="130.5" width="48" height="333" fill="#000" stroke="#fff" stroke-width="1"/>
<line x1="723.5" y1="131" x2="723.5" y2="464" stroke="#000" stroke-dasharray="2 2"/>
<line x1="723.5" y1="133" x2="723.5" y2="464" stroke="#8c8c8c" stroke-dasharray="2 2"/>
<path d="M723.5 436.3 L731.5 438.5 L723.5 440.7 Z" fill="#9a9a9a"/>
<line x1="724" y1="414.5" x2="727" y2="414.5" stroke="#fff" stroke-width="1"/>
<path d="M723.5 389.3 L731.5 391.5 L723.5 393.7 Z" fill="#9a9a9a"/>
<line x1="724" y1="368.5" x2="727" y2="368.5" stroke="#fff" stroke-width="1"/>
<path d="M723.5 343.3 L731.5 345.5 L723.5 347.7 Z" fill="#9a9a9a"/>
<line x1="724" y1="321.5" x2="727" y2="321.5" stroke="#fff" stroke-width="1"/>
<path d="M723.5 296.3 L731.5 298.5 L723.5 300.7 Z" fill="#9a9a9a"/>
<line x1="724" y1="275.5" x2="727" y2="275.5" stroke="#fff" stroke-width="1"/>
<path d="M723.5 250.3 L731.5 252.5 L723.5 254.7 Z" fill="#9a9a9a"/>
<line x1="724" y1="229.5" x2="727" y2="229.5" stroke="#fff" stroke-width="1"/>
<path d="M723.5 204.3 L731.5 206.5 L723.5 208.7 Z" fill="#9a9a9a"/>
<line x1="724" y1="182.5" x2="727" y2="182.5" stroke="#fff" stroke-width="1"/>
<path d="M723.5 157.3 L731.5 159.5 L723.5 161.7 Z" fill="#9a9a9a"/>
<line x1="724" y1="136.5" x2="727" y2="136.5" stroke="#fff" stroke-width="1"/>
<line x1="724" y1="461.5" x2="727" y2="461.5" stroke="#fff" stroke-width="1"/>
<rect x="549.5" y="152.5" width="156" height="63.6" fill="#000" fill-opacity="0.65" stroke="#fff"/>
<text transform="translate(550.70 166.7) scale(1.000 1.0)" style="font:normal 12.5px 'Liberation Sans', sans-serif;fill:#fff;white-space:pre" xml:space="preserve">Last</text>
<text transform="translate(550.50 181.4) scale(1.004 1.0)" style="font:normal 12.5px 'Liberation Sans', sans-serif;fill:#fff;white-space:pre" xml:space="preserve">High on</text>
<text transform="translate(602.90 181.4) scale(1.012 1.0)" style="font:normal 12.5px 'Liberation Sans', sans-serif;fill:#fff;white-space:pre" xml:space="preserve">06/08/09</text>
<text transform="translate(551.50 196.7) scale(0.957 1.0)" style="font:normal 12.5px 'Liberation Sans', sans-serif;fill:#fff;white-space:pre" xml:space="preserve">Average</text>
<text transform="translate(550.50 211.6) scale(1.004 1.0)" style="font:normal 12.5px 'Liberation Sans', sans-serif;fill:#fff;white-space:pre" xml:space="preserve">Low on</text>
<text transform="translate(601.50 211.6) scale(0.996 1.0)" style="font:normal 12.5px 'Liberation Sans', sans-serif;fill:#fff;white-space:pre" xml:space="preserve">11/26/09</text>
<text transform="translate(664.20 166.7) scale(0.985 1.0)" style="font:normal 12.5px 'Liberation Sans', sans-serif;fill:#fff;white-space:pre" xml:space="preserve">76.198</text>
<text transform="translate(664.20 181.4) scale(0.985 1.0)" style="font:normal 12.5px 'Liberation Sans', sans-serif;fill:#fff;white-space:pre" xml:space="preserve">81.466</text>
<text transform="translate(664.20 196.7) scale(0.985 1.0)" style="font:normal 12.5px 'Liberation Sans', sans-serif;fill:#fff;white-space:pre" xml:space="preserve">77.670</text>
<text transform="translate(664.20 211.6) scale(0.985 1.0)" style="font:normal 12.5px 'Liberation Sans', sans-serif;fill:#fff;white-space:pre" xml:space="preserve">74.170</text>
<text transform="translate(47.80 475.9) scale(0.942 1.0)" style="font:normal 10.8px 'Liberation Sans', sans-serif;fill:#fff;white-space:pre" xml:space="preserve">Jun</text>
<text transform="translate(154.90 475.9) scale(0.903 1.0)" style="font:normal 10.8px 'Liberation Sans', sans-serif;fill:#fff;white-space:pre" xml:space="preserve">Jul</text>
<text transform="translate(253.80 475.9) scale(1.036 1.0)" style="font:normal 10.8px 'Liberation Sans', sans-serif;fill:#fff;white-space:pre" xml:space="preserve">Aug</text>
<text transform="translate(353.50 475.9) scale(1.000 1.0)" style="font:normal 10.8px 'Liberation Sans', sans-serif;fill:#fff;white-space:pre" xml:space="preserve">Sep</text>
<text transform="translate(457.30 475.9) scale(1.006 1.0)" style="font:normal 10.8px 'Liberation Sans', sans-serif;fill:#fff;white-space:pre" xml:space="preserve">Oct</text>
<text transform="translate(556.80 475.9) scale(0.939 1.0)" style="font:normal 10.8px 'Liberation Sans', sans-serif;fill:#fff;white-space:pre" xml:space="preserve">Nov</text>
<text transform="translate(659.00 475.9) scale(0.899 1.0)" style="font:normal 10.8px 'Liberation Sans', sans-serif;fill:#fff;white-space:pre" xml:space="preserve">Dec</text>
<text transform="translate(351.20 490) scale(0.958 1.0)" style="font:normal 10.8px 'Liberation Sans', sans-serif;fill:#fff;white-space:pre" xml:space="preserve">2009</text>
<text transform="translate(733.60 442.3) scale(0.997 1.0)" style="font:normal 10.6px 'Liberation Sans', sans-serif;fill:#fff;white-space:pre" xml:space="preserve">74.000</text>
<text transform="translate(733.60 395.3) scale(0.997 1.0)" style="font:normal 10.6px 'Liberation Sans', sans-serif;fill:#fff;white-space:pre" xml:space="preserve">75.000</text>
<text transform="translate(733.60 349.3) scale(0.997 1.0)" style="font:normal 10.6px 'Liberation Sans', sans-serif;fill:#fff;white-space:pre" xml:space="preserve">76.000</text>
<text transform="translate(733.60 302.3) scale(0.997 1.0)" style="font:normal 10.6px 'Liberation Sans', sans-serif;fill:#fff;white-space:pre" xml:space="preserve">77.000</text>
<text transform="translate(733.60 256.3) scale(0.997 1.0)" style="font:normal 10.6px 'Liberation Sans', sans-serif;fill:#fff;white-space:pre" xml:space="preserve">78.000</text>
<text transform="translate(733.60 210.3) scale(0.997 1.0)" style="font:normal 10.6px 'Liberation Sans', sans-serif;fill:#fff;white-space:pre" xml:space="preserve">79.000</text>
<text transform="translate(733.60 163.3) scale(0.997 1.0)" style="font:normal 10.6px 'Liberation Sans', sans-serif;fill:#fff;white-space:pre" xml:space="preserve">80.000</text>
<path d="M726.1 336.5 L732.3 330 L773 330 L773 342.8 L732.3 342.8 Z" fill="#fff"/>
<text transform="translate(731.50 340.7) scale(0.969 1.0)" style="font:normal 10.6px 'Liberation Sans', sans-serif;fill:#000;white-space:pre" xml:space="preserve">76.198</text>
<g stroke="#fff">
<line x1="6.5" y1="464" x2="6.5" y2="468"/>
<line x1="109.5" y1="464" x2="109.5" y2="468"/>
<line x1="216.5" y1="464" x2="216.5" y2="468"/>
<line x1="313.5" y1="464" x2="313.5" y2="468"/>
<line x1="416.5" y1="464" x2="416.5" y2="468"/>
<line x1="518.5" y1="464" x2="518.5" y2="468"/>
<line x1="616.5" y1="464" x2="616.5" y2="468"/>
</g>
<path d="M780.5 298.5 L777.5 303 L780.5 307.5" stroke="#bbb" stroke-width="1.2" fill="none"/>
</svg>
</body></html>
